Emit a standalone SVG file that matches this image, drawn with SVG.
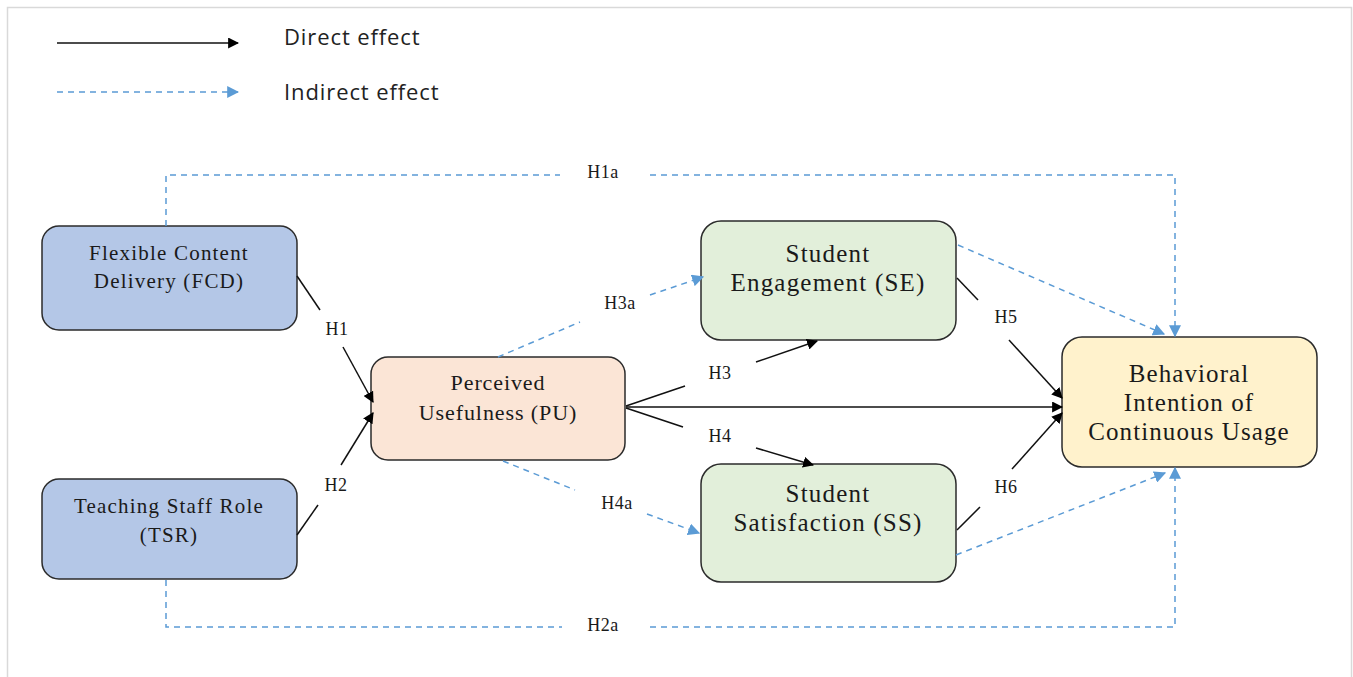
<svg xmlns="http://www.w3.org/2000/svg" width="1353" height="677" viewBox="0 0 1353 677">
<style>
.node{stroke:#2b2b2b;stroke-width:1.5}
.t{font-family:"Liberation Serif","Times New Roman",serif;fill:#1a1a1a;text-anchor:middle}
.lbl{font-family:"Liberation Serif","Times New Roman",serif;font-size:18px;fill:#1a1a1a;text-anchor:middle;letter-spacing:0.5px}
.leg{font-family:"Open Sans","Liberation Sans",sans-serif;font-size:22px;fill:#222;letter-spacing:0.9px}
.d{fill:none;stroke:#111;stroke-width:1.5}
.i{fill:none;stroke:#5B9BD5;stroke-width:1.5;stroke-dasharray:6 5}
</style>
<defs>
<marker id="ab" viewBox="0 0 10 10" refX="9" refY="5" markerWidth="11" markerHeight="11" markerUnits="userSpaceOnUse" orient="auto"><path d="M0,0 L10,5 L0,10 Z" fill="#000"/></marker>
<marker id="bb" viewBox="0 0 10 10" refX="9" refY="5" markerWidth="12" markerHeight="12" markerUnits="userSpaceOnUse" orient="auto"><path d="M0,0 L10,5 L0,10 Z" fill="#5B9BD5"/></marker>
</defs>
<rect x="0" y="0" width="1353" height="677" fill="#fff"/>
<path d="M7.5,677 V7.5 H1351.5 V677" fill="none" stroke="#d9d9d9" stroke-width="1.5"/>

<g id="legend">
<line x1="57" y1="43" x2="238" y2="43" class="d" marker-end="url(#ab)"/>
<text x="284" y="45" class="leg">Direct effect</text>
<line x1="57" y1="92" x2="238" y2="92" class="i" marker-end="url(#bb)"/>
<text x="284" y="100" class="leg">Indirect effect</text>
</g>

<g id="FCD">
<rect x="42" y="226" width="255" height="104" rx="17" fill="#B4C7E7" class="node"/>
<text class="t" font-size="21" letter-spacing="1.2"><tspan x="169" y="260">Flexible  Content</tspan><tspan x="169" y="288">Delivery  (FCD)</tspan></text>
</g>
<g id="TSR">
<rect x="42" y="479" width="255" height="100" rx="17" fill="#B4C7E7" class="node"/>
<text class="t" font-size="21" letter-spacing="1.2"><tspan x="169" y="513">Teaching Staff Role</tspan><tspan x="169" y="542">(TSR)</tspan></text>
</g>
<g id="PU">
<rect x="371" y="357" width="254" height="103" rx="17" fill="#FBE5D6" class="node"/>
<text class="t" font-size="22" letter-spacing="0.9"><tspan x="498" y="390">Perceived</tspan><tspan x="498" y="420">Usefulness (PU)</tspan></text>
</g>
<g id="SE">
<rect x="701" y="221" width="255" height="119" rx="20" fill="#E2EFDA" class="node"/>
<text class="t" font-size="25" letter-spacing="1.2"><tspan x="828" y="262">Student</tspan><tspan x="828" y="291">Engagement (SE)</tspan></text>
</g>
<g id="SS">
<rect x="701" y="464" width="255" height="118" rx="20" fill="#E2EFDA" class="node"/>
<text class="t" font-size="25" letter-spacing="1.2"><tspan x="828" y="502">Student</tspan><tspan x="828" y="531">Satisfaction (SS)</tspan></text>
</g>
<g id="BI">
<rect x="1062" y="337" width="255" height="130" rx="20" fill="#FFF2CC" class="node"/>
<text class="t" font-size="25" letter-spacing="1.1"><tspan x="1189" y="382">Behavioral</tspan><tspan x="1189" y="411">Intention of</tspan><tspan x="1189" y="440">Continuous Usage</tspan></text>
</g>

<g id="connectors">
<path d="M166,226 V175 H560 M650,175 H1175 V336" class="i" marker-end="url(#bb)"/>
<path d="M166,580 V627 H562 M650,627 H1175 V468" class="i" marker-end="url(#bb)"/>
<text x="603" y="178" class="lbl" font-size="19">H1a</text>
<text x="603" y="631" class="lbl" font-size="19">H2a</text>
<line x1="297" y1="276" x2="320" y2="310" class="d"/>
<line x1="343" y1="347" x2="373" y2="402" class="d" marker-end="url(#ab)"/>
<text x="337" y="335" class="lbl">H1</text>
<line x1="297" y1="535" x2="318" y2="505" class="d"/>
<line x1="341" y1="465" x2="373" y2="413" class="d" marker-end="url(#ab)"/>
<text x="336" y="491" class="lbl">H2</text>
<line x1="498" y1="357" x2="580" y2="322" class="i"/>
<line x1="650" y1="295" x2="703" y2="277" class="i" marker-end="url(#bb)"/>
<text x="620" y="309" class="lbl">H3a</text>
<line x1="503" y1="461" x2="575" y2="490" class="i"/>
<line x1="647" y1="514" x2="699" y2="533" class="i" marker-end="url(#bb)"/>
<text x="617" y="509" class="lbl">H4a</text>
<line x1="626" y1="406" x2="685" y2="386" class="d"/>
<line x1="756" y1="362" x2="817" y2="341" class="d" marker-end="url(#ab)"/>
<text x="720" y="379" class="lbl">H3</text>
<line x1="626" y1="408" x2="683" y2="427" class="d"/>
<line x1="756" y1="448" x2="813" y2="465" class="d" marker-end="url(#ab)"/>
<text x="720" y="442" class="lbl">H4</text>
<line x1="626" y1="407" x2="1062" y2="407" class="d" marker-end="url(#ab)"/>
<line x1="957" y1="278" x2="978" y2="300" class="d"/>
<line x1="1009" y1="340" x2="1062" y2="398" class="d" marker-end="url(#ab)"/>
<text x="1006" y="323" class="lbl">H5</text>
<line x1="957" y1="530" x2="980" y2="507" class="d"/>
<line x1="1012" y1="469" x2="1062" y2="413" class="d" marker-end="url(#ab)"/>
<text x="1006" y="493" class="lbl">H6</text>
<line x1="958" y1="245" x2="1164" y2="334" class="i" marker-end="url(#bb)"/>
<line x1="956" y1="555" x2="1165" y2="473" class="i" marker-end="url(#bb)"/>
</g>
</svg>
